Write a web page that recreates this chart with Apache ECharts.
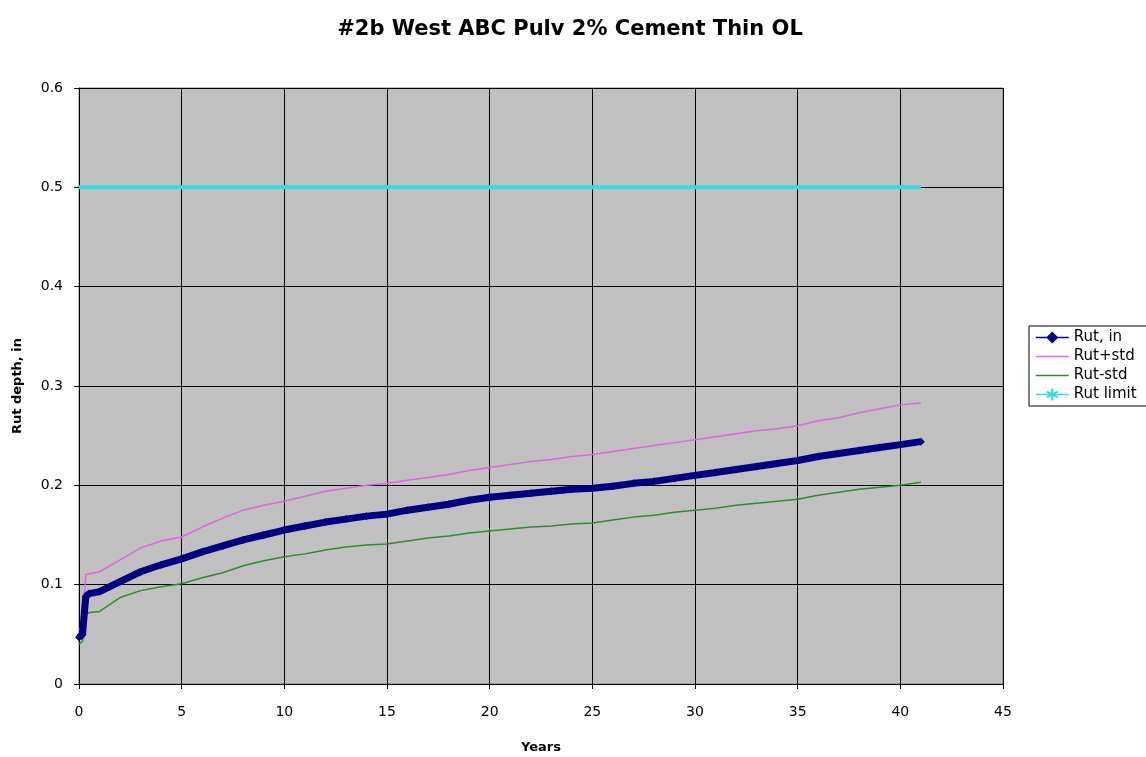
<!DOCTYPE html>
<html>
<head>
<meta charset="utf-8">
<script src="https://cdn.jsdelivr.net/npm/echarts@6/dist/echarts.min.js"></script>
<style>
html,body{margin:0;padding:0;background:#fff;}
#chart{width:1146px;height:757px;}
</style>
</head>
<body>
<div id="chart"></div>
<script>
const years    = [0, 0.17, 0.33, 0.5, 1, 2, 3, 4, 5, 6, 7, 8, 9, 10, 11, 12, 13, 14, 15, 16, 17, 18, 19, 20, 21, 22, 23, 24, 25, 26, 27, 28, 29, 30, 31, 32, 33, 34, 35, 36, 37, 38, 39, 40, 41];
const rutIn    = [0.047, 0.050, 0.088, 0.091, 0.093, 0.103, 0.113, 0.120, 0.126, 0.133, 0.139, 0.145, 0.150, 0.155, 0.159, 0.163, 0.166, 0.169, 0.171, 0.175, 0.178, 0.181, 0.185, 0.188, 0.190, 0.192, 0.194, 0.196, 0.197, 0.199, 0.202, 0.204, 0.207, 0.210, 0.213, 0.216, 0.219, 0.222, 0.225, 0.229, 0.232, 0.235, 0.238, 0.241, 0.244];
const rutPlus  = [0.055, 0.058, 0.110, 0.111, 0.113, 0.125, 0.137, 0.144, 0.148, 0.158, 0.167, 0.175, 0.180, 0.184, 0.189, 0.194, 0.197, 0.200, 0.202, 0.205, 0.208, 0.211, 0.215, 0.218, 0.221, 0.224, 0.226, 0.229, 0.231, 0.234, 0.237, 0.240, 0.243, 0.246, 0.249, 0.252, 0.255, 0.257, 0.260, 0.265, 0.268, 0.273, 0.277, 0.281, 0.283];
const rutMinus = [0.040, 0.043, 0.070, 0.072, 0.073, 0.087, 0.094, 0.098, 0.101, 0.107, 0.112, 0.119, 0.124, 0.128, 0.131, 0.135, 0.138, 0.140, 0.141, 0.144, 0.147, 0.149, 0.152, 0.154, 0.156, 0.158, 0.159, 0.161, 0.162, 0.165, 0.168, 0.170, 0.173, 0.175, 0.177, 0.180, 0.182, 0.184, 0.186, 0.190, 0.193, 0.196, 0.198, 0.200, 0.203];
const limitYears  = [0, 41];
const limitValues = [0.5, 0.5];
const seriesNames = ['Rut, in', 'Rut+std', 'Rut-std', 'Rut limit'];
const titleText = '#2b West ABC Pulv 2% Cement Thin OL';
const xName = 'Years';
const yName = 'Rut depth, in';

const pairs = (xs, ys) => xs.map((x, i) => [x, ys[i]]);

const chart = echarts.init(document.getElementById('chart'), null, {renderer: 'canvas'});
const font = '"DejaVu Sans", Arial, sans-serif';
const asterisk = 'path://M4,0 L6,0 L6,3.6 L9.2,1.8 L10,3.4 L6.9,5 L10,6.6 L9.2,8.2 L6,6.4 L6,10 L4,10 L4,6.4 L0.8,8.2 L0,6.6 L3.1,5 L0,3.4 L0.8,1.8 L4,3.6 Z';
chart.setOption({
  animation: false,
  backgroundColor: '#ffffff',
  title: {
    text: titleText,
    left: 565, textAlign: 'center', top: 14,
    textStyle: {fontFamily: font, fontSize: 21, fontWeight: 'bold', color: '#000'}
  },
  legend: {
    orient: 'vertical',
    left: 1029, top: 326,
    backgroundColor: '#fff',
    borderColor: '#000', borderWidth: 1,
    padding: [4, 40, 4, 6],
    itemGap: 4, itemWidth: 33, itemHeight: 15,
    textStyle: {fontFamily: font, fontSize: 15, color: '#000'},
    data: [
      {name: seriesNames[0], lineStyle: {width: 1.5}, itemStyle: {color: '#000080'}},
      {name: seriesNames[1], lineStyle: {width: 1.5}, itemStyle: {opacity: 0}},
      {name: seriesNames[2], lineStyle: {width: 1.5}, itemStyle: {opacity: 0}},
      {name: seriesNames[3], lineStyle: {width: 1.5}}
    ]
  },
  grid: {
    left: 79, right: 143, top: 88, bottom: 73,
    outerBoundsMode: 'none',
    show: true, backgroundColor: '#C0C0C0', borderColor: '#808080', borderWidth: 1
  },
  xAxis: {
    type: 'value', min: 0, max: 45, interval: 5,
    name: xName, nameLocation: 'middle', nameGap: 57,
    nameTextStyle: {fontFamily: font, fontSize: 13, fontWeight: 'bold', color: '#000'},
    axisLine: {show: true, onZero: false, lineStyle: {color: '#000', width: 1}},
    axisTick: {show: true, length: 5, lineStyle: {color: '#000'}},
    axisLabel: {fontFamily: font, fontSize: 14, color: '#000', margin: 21},
    splitLine: {show: true, lineStyle: {color: '#000', width: 1}}
  },
  yAxis: {
    type: 'value', min: 0, max: 0.6, interval: 0.1,
    name: yName, nameLocation: 'middle', nameGap: 55, nameRotate: 90,
    nameTextStyle: {fontFamily: font, fontSize: 13, fontWeight: 'bold', color: '#000'},
    axisLine: {show: true, onZero: false, lineStyle: {color: '#000', width: 1}},
    axisTick: {show: true, length: 5, lineStyle: {color: '#000'}},
    axisLabel: {fontFamily: font, fontSize: 14, color: '#000', margin: 16},
    splitLine: {show: true, lineStyle: {color: '#000', width: 1}}
  },
  series: [
    {
      name: seriesNames[0], type: 'line', data: pairs(years, rutIn),
      color: '#000080', lineStyle: {width: 7, color: '#000080'},
      symbol: 'diamond', symbolSize: 8, showSymbol: true, z: 4,
      itemStyle: {color: '#000080'}
    },
    {
      name: seriesNames[1], type: 'line', data: pairs(years, rutPlus),
      color: '#E066E0', lineStyle: {width: 1.5, color: '#E066E0'}, symbol: 'circle', showSymbol: false, z: 3
    },
    {
      name: seriesNames[2], type: 'line', data: pairs(years, rutMinus),
      color: '#2E8B2E', lineStyle: {width: 1.5, color: '#2E8B2E'}, symbol: 'circle', showSymbol: false, z: 3
    },
    {
      name: seriesNames[3], type: 'line', data: pairs(limitYears, limitValues),
      color: '#3ADADF', lineStyle: {width: 4, color: '#3ADADF'}, symbol: asterisk, showSymbol: false, z: 3
    }
  ]
});
</script>
</body>
</html>
